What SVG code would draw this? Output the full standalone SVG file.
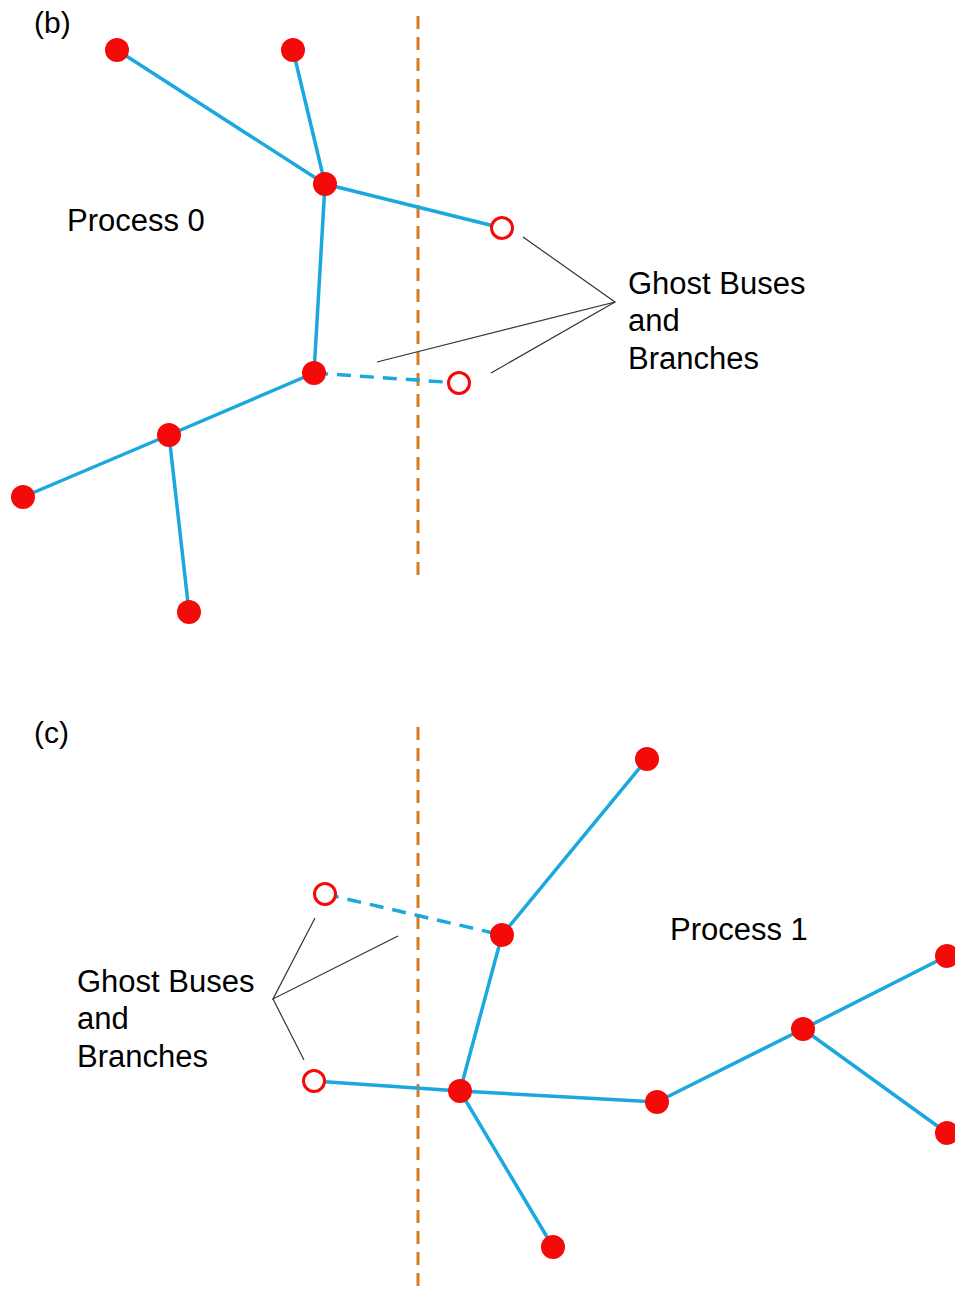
<svg xmlns="http://www.w3.org/2000/svg" width="955" height="1289" viewBox="0 0 955 1289">
<style>
.edge{stroke:#1BA8DF;stroke-width:3.5;fill:none;stroke-linecap:round}
.dash{stroke-dasharray:14 9;stroke-linecap:butt}
.part{stroke:#D67B22;stroke-width:3;stroke-dasharray:13 8;fill:none}
.lead{stroke:#333;stroke-width:1.2;fill:none}
.bus{fill:#F50A0A}
.ghost{fill:#fff;stroke:#F50A0A;stroke-width:3}
text{font-family:"Liberation Sans",Arial,sans-serif;font-size:31px;fill:#000}
</style>
<rect width="955" height="1289" fill="#fff"/>
<g id="partitions">
<line class="part" x1="418" y1="16" x2="418" y2="582"/>
<line class="part" x1="418" y1="727" x2="418" y2="1289"/>
</g>
<g id="connectors">
<line class="edge" x1="117" y1="50" x2="325" y2="184"/>
<line class="edge" x1="293" y1="50" x2="325" y2="184"/>
<line class="edge" x1="325" y1="184" x2="502" y2="228"/>
<line class="edge" x1="325" y1="184" x2="314" y2="373"/>
<line class="edge dash" x1="314" y1="373" x2="459" y2="383"/>
<line class="edge" x1="314" y1="373" x2="169" y2="435"/>
<line class="edge" x1="169" y1="435" x2="23" y2="497"/>
<line class="edge" x1="169" y1="435" x2="189" y2="612"/>
<line class="edge dash" x1="325" y1="894" x2="502" y2="935"/>
<line class="edge" x1="502" y1="935" x2="647" y2="759"/>
<line class="edge" x1="502" y1="935" x2="460" y2="1091"/>
<line class="edge" x1="314" y1="1081" x2="460" y2="1091"/>
<line class="edge" x1="460" y1="1091" x2="657" y2="1102"/>
<line class="edge" x1="460" y1="1091" x2="553" y2="1247"/>
<line class="edge" x1="657" y1="1102" x2="803" y2="1029"/>
<line class="edge" x1="803" y1="1029" x2="947" y2="956"/>
<line class="edge" x1="803" y1="1029" x2="947" y2="1133"/>
<polyline class="lead" points="523,237 615,302 377,362"/>
<line class="lead" x1="615" y1="302" x2="491" y2="373"/>
<polyline class="lead" points="315,918 273,999 398,936"/>
<line class="lead" x1="273" y1="999" x2="304" y2="1060"/>
</g>
<g id="nodes-b">
<circle id="b-n1" class="bus" cx="117" cy="50" r="12"/>
<circle id="b-n2" class="bus" cx="293" cy="50" r="12"/>
<circle id="b-n3" class="bus" cx="325" cy="184" r="12"/>
<circle id="b-g1" class="ghost" cx="502" cy="228" r="10.5"/>
<circle id="b-n4" class="bus" cx="314" cy="373" r="12"/>
<circle id="b-g2" class="ghost" cx="459" cy="383" r="10.5"/>
<circle id="b-n5" class="bus" cx="169" cy="435" r="12"/>
<circle id="b-n6" class="bus" cx="23" cy="497" r="12"/>
<circle id="b-n7" class="bus" cx="189" cy="612" r="12"/>
</g>
<g id="nodes-c">
<circle id="c-g1" class="ghost" cx="325" cy="894" r="10.5"/>
<circle id="c-n1" class="bus" cx="502" cy="935" r="12"/>
<circle id="c-n2" class="bus" cx="647" cy="759" r="12"/>
<circle id="c-g2" class="ghost" cx="314" cy="1081" r="10.5"/>
<circle id="c-n3" class="bus" cx="460" cy="1091" r="12"/>
<circle id="c-n4" class="bus" cx="657" cy="1102" r="12"/>
<circle id="c-n5" class="bus" cx="803" cy="1029" r="12"/>
<circle id="c-n6" class="bus" cx="947" cy="956" r="12"/>
<circle id="c-n7" class="bus" cx="947" cy="1133" r="12"/>
<circle id="c-n8" class="bus" cx="553" cy="1247" r="12"/>
</g>
<g id="labels">
<text x="34" y="33" style="font-size:30px">(b)</text>
<text x="67" y="231">Process 0</text>
<text x="628" y="294">Ghost Buses</text>
<text x="628" y="331">and</text>
<text x="628" y="369">Branches</text>
<text x="34" y="743" style="font-size:30px">(c)</text>
<text x="670" y="940">Process 1</text>
<text x="77" y="992">Ghost Buses</text>
<text x="77" y="1029">and</text>
<text x="77" y="1067">Branches</text>
</g>
</svg>
